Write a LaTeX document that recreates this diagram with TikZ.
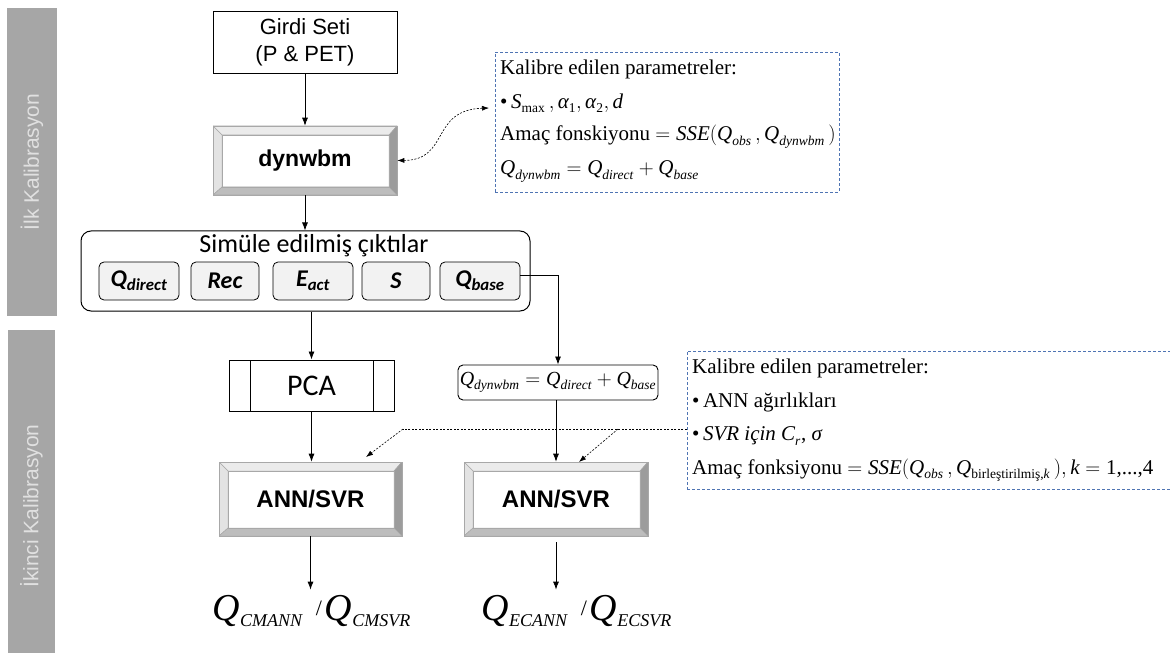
\documentclass[tikz,border=0pt]{standalone}
\usepackage{amsmath}
\usepackage{fontspec}
\setmainfont{Liberation Serif}
\newfontfamily\arialf{Liberation Sans}
\newfontfamily\calf{Carlito}
\usetikzlibrary{arrows.meta,calc}

\definecolor{barg}{HTML}{A6A6A6}
\definecolor{bartxt}{HTML}{E0E0E0}
\definecolor{dblue}{HTML}{4F74B3}
\definecolor{innerf}{HTML}{F2F2F2}
\definecolor{bevlight}{HTML}{EBEBEB}
\definecolor{bevleft}{HTML}{E3E3E3}
\definecolor{bevright}{HTML}{9C9C9C}
\definecolor{bevbot}{HTML}{BDBDBD}
\definecolor{bevline}{HTML}{A8A8A8}

\newcommand{\myfs}[1]{\fontsize{#1}{#1}\selectfont}
\newcommand{\sbt}[1]{\text{\myfs{13.5}#1}}
\newcommand{\vQ}[1]{\textit{Q}_{\sbt{\textit{#1}}}}
\newcommand{\bigQ}[1]{{\myfs{38}\textit{Q}}\raisebox{-6pt}{\myfs{18}\textit{#1}}}

\begin{document}
\begin{tikzpicture}[x=1pt,y=-1pt,
  arr/.style={draw=black,line width=0.8pt,-{Latex[length=8pt,width=6pt]}},
  dconn/.style={draw=black,line width=0.6pt,dash pattern=on 2pt off 1.5pt},
  dtip/.style={-{Latex[length=7pt,width=5pt]}},
  plainbox/.style={draw=black,line width=0.9pt,fill=white,align=center,inner sep=0pt,
    font=\arialf\fontsize{22}{27}\selectfont},
  bevelbox/.style={draw=bevline,line width=0.6pt,fill=white,inner sep=0pt,
    path picture={
      \coordinate (pNW) at (path picture bounding box.north west);
      \coordinate (pNE) at (path picture bounding box.north east);
      \coordinate (pSW) at (path picture bounding box.south west);
      \coordinate (pSE) at (path picture bounding box.south east);
      \filldraw[fill=bevlight,draw=bevline,line width=0.5pt] (pNW) -- (pNE) -- ($(pNE)+(-8pt,-9pt)$) -- ($(pNW)+(9pt,-9pt)$) -- cycle;
      \filldraw[fill=bevleft,draw=bevline,line width=0.5pt] (pNW) -- ($(pNW)+(9pt,-9pt)$) -- ($(pSW)+(9pt,8pt)$) -- (pSW) -- cycle;
      \filldraw[fill=bevright,draw=bevline,line width=0.5pt] (pNE) -- (pSE) -- ($(pSE)+(-8pt,8pt)$) -- ($(pNE)+(-8pt,-9pt)$) -- cycle;
      \filldraw[fill=bevbot,draw=bevline,line width=0.5pt] (pSW) -- (pSE) -- ($(pSE)+(-8pt,8pt)$) -- ($(pSW)+(9pt,8pt)$) -- cycle;
      \draw[draw=bevline,line width=0.5pt] ($(pNW)+(9pt,-9pt)$) rectangle ($(pSE)+(-8pt,8pt)$);
    }},
  ibox/.style={draw=black,line width=0.8pt,rounded corners=5pt,fill=innerf,inner sep=0pt,
    minimum height=38pt,font=\calf\bfseries\itshape\myfs{24}},
  pcabox/.style={draw=black,line width=0.9pt,fill=white,inner sep=0pt,
    minimum width=165pt,minimum height=51pt,font=\calf\myfs{30},
    path picture={
      \draw[line width=0.9pt] ([xshift=21pt]path picture bounding box.north west) -- ([xshift=21pt]path picture bounding box.south west);
      \draw[line width=0.9pt] ([xshift=-21pt]path picture bounding box.north east) -- ([xshift=-21pt]path picture bounding box.south east);
    }},
  dbox/.style={draw=dblue,line width=0.8pt,dash pattern=on 3pt off 2pt,inner sep=0pt},
  tline/.style={anchor=base west,inner sep=0pt,font=\myfs{21}},
  barlbl/.style={rotate=90,text=bartxt,font=\arialf\myfs{21},inner sep=0pt}
]
\useasboundingbox (0,0) rectangle (1170,655);

% side bars
\fill[barg] (7,8) rectangle (57,316);
\fill[barg] (8,330) rectangle (55,653);
\node[barlbl] (lbl1) at (32,162) {İlk Kalibrasyon};
\node[barlbl] (lbl2) at (31.5,506) {İkinci Kalibrasyon};

% first stage
\node[plainbox,minimum width=184pt,minimum height=62pt] (girdi) at (305,42) {Girdi Seti\\(P \& PET)};
\node[bevelbox,minimum width=184pt,minimum height=69pt,font=\arialf\bfseries\myfs{23}] (dyn) at (305,160.5) {dynwbm};

\node[draw=black,line width=1pt,rounded corners=10pt,minimum width=449pt,minimum height=80pt,inner sep=0pt] (sim) at (305.5,271) {};
\node[anchor=base,inner sep=0pt,font=\calf\myfs{26}] (simt) at (314,252) {Simüle edilmiş çıktılar};
\node[ibox,minimum width=80pt] (qd) at (139,281) {Q\textsubscript{direct}};
\node[ibox,minimum width=68pt] (rec) at (225,281) {Rec};
\node[ibox,minimum width=80pt] (eact) at (313,281) {E\textsubscript{act}};
\node[ibox,minimum width=68pt] (ss) at (396,281) {S};
\node[ibox,minimum width=80pt] (qb) at (480,281) {Q\textsubscript{base}};

% calibration box 1
\node[dbox,minimum width=344pt,minimum height=140pt] (box1) at (667,122) {};
\node[tline] (b1l1) at (500,75) {Kalibre edilen parametreler:};
\node[tline] (b1l2) at (500,109) {•\,$\textit{S}_{\sbt{max}}\,,\textit{α}_{\sbt{1}},\textit{α}_{\sbt{2}},\textit{d}$};
\node[tline] (b1l3) at (500,141) {Amaç fonskiyonu $= \textit{SSE}(\vQ{obs}\,, \vQ{dynwbm}\,)$};
\node[tline] (b1l4) at (500,175) {$\vQ{dynwbm} = \vQ{direct} + \vQ{base}$};

% second stage
\node[pcabox] (pca) at (311.5,385.5) {PCA};
\node[draw=black,line width=0.9pt,rounded corners=5pt,fill=white,minimum width=200pt,minimum height=35pt,inner sep=0pt,font=\myfs{20}] (qdyn) at (558,382.5) {$\vQ{dynwbm} = \vQ{direct} + \vQ{base}$};

\node[bevelbox,minimum width=183pt,minimum height=74pt,font=\arialf\bfseries\myfs{24}] (ann1) at (310.5,499) {ANN/SVR};
\node[bevelbox,minimum width=184pt,minimum height=74pt,font=\arialf\bfseries\myfs{24}] (ann2) at (556,499) {ANN/SVR};

\node[anchor=base,inner xsep=0pt,inner ysep=5pt] (out1) at (311.5,620) {\bigQ{CMANN}\hspace{13pt}\raisebox{5pt}{\myfs{22}/}\hspace{3pt}\bigQ{CMSVR}};
\node[anchor=base,inner xsep=0pt,inner ysep=5pt] (out2) at (576.5,620) {\bigQ{ECANN}\hspace{13pt}\raisebox{5pt}{\myfs{22}/}\hspace{3pt}\bigQ{ECSVR}};

% calibration box 2
\node[dbox,minimum width=488pt,minimum height=138pt] (box2) at (931,420) {};
\node[tline] (b2l1) at (692,373) {Kalibre edilen parametreler:};
\node[tline] (b2l2) at (692,407) {•\,ANN ağırlıkları};
\node[tline] (b2l3) at (692,440) {•\,$\textit{SVR için C}_{\sbt{\textit{r}}}$, $\textit{σ}$};
\node[tline] (b2l4) at (692,474) {Amaç fonksiyonu $= \textit{SSE}(\vQ{obs}\,, \textit{Q}_{\sbt{birleştirilmiş,\textit{k}}}\,), \textit{k} = \text{1,...,4}$};

% connectors
\draw[arr] (girdi.south) -- (dyn.north);
\draw[arr] (dyn.south) -- (dyn.south |- sim.north);
\draw[arr] (sim.south -| pca.north) -- (pca.north);
\draw[arr] ([yshift=6pt]qb.east) -| (qdyn.north);
\draw[arr] (pca.south) -- (pca.south |- ann1.north);
\draw[arr] (qdyn.south -| ann2.north) -- (ann2.north);
\draw[arr] (ann1.south) -- (ann1.south |- out1.north);
\draw[arr] ([yshift=-6pt]ann2.south) -- (ann2.south |- out2.north);

% dashed links
\coordinate (tipR) at (489,108);
\draw[dconn,{Latex[length=7pt,width=5pt]}-{Latex[length=7pt,width=5pt]}] (dyn.east) .. controls (450,160) and (430,110) .. (tipR);
\coordinate (j1) at (618,429);
\coordinate (j2) at (403,429);
\coordinate (a1) at (366,457);
\coordinate (a2) at (579,462);
\draw[dconn] (box2.west |- j1) -- (j2);
\draw[dconn,dtip] (j2) -- (a1);
\draw[dconn,dtip] (j1) -- (a2);
\end{tikzpicture}
\end{document}
